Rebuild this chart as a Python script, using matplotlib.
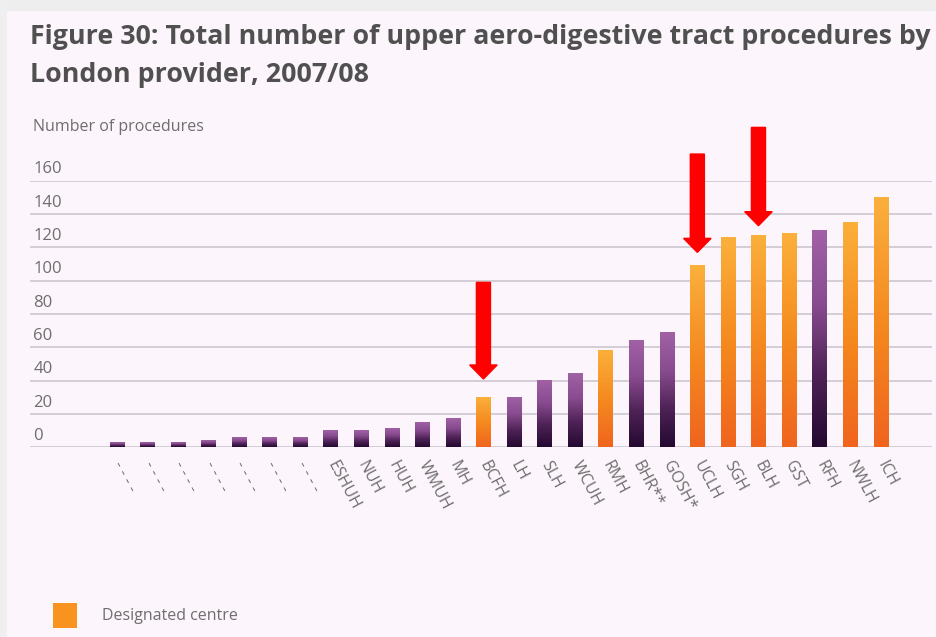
import numpy as np
import matplotlib
matplotlib.use("Agg")
import matplotlib.pyplot as plt
import matplotlib.transforms as mtransforms
from matplotlib.colors import LinearSegmentedColormap
from matplotlib.patches import Rectangle
from matplotlib import font_manager

# ---------------- data ----------------
providers = ["- - - -", "- - - -", "- - - -", "- - - -", "- - - -", "- - - -", "- - - -",
             "ESHUH", "NUH", "HUH", "WMUH", "MH", "BCFH", "LH", "SLH", "WCUH",
             "RMH", "BHR**", "GOSH*", "UCLH", "SGH", "BLH", "GST", "RFH", "NWLH", "ICH"]
procedures = [3, 3, 3, 4, 6, 6, 6, 10, 10, 11, 15, 17, 30, 30, 40, 44,
              58, 64, 69, 109, 126, 127, 128, 130, 135, 150]
designated = ["BCFH", "RMH", "UCLH", "SGH", "BLH", "GST", "NWLH", "ICH"]
y_ticks = [0, 20, 40, 60, 80, 100, 120, 140, 160]

# red arrow annotations (provider, tail value, tip value)
arrow_targets = ["BCFH", "UCLH", "BLH"]
arrow_tails = [99, 176, 192]
arrow_tips = [41, 117, 133]

title = ("Figure 30: Total number of upper aero-digestive tract procedures by\n"
         "London provider, 2007/08")
y_label = "Number of procedures"
legend_label = "Designated centre"

# ---------------- style ----------------
W, H = 937, 637
BG = "#fcf5fb"
TXT = "#6e6e6e"
avail = {f.name for f in font_manager.fontManager.ttflist}
FONT = "Open Sans" if "Open Sans" in avail else "DejaVu Sans"
plt.rcParams["font.family"] = [FONT, "DejaVu Sans"]

fig = plt.figure(figsize=(W / 100, H / 100), dpi=100, facecolor=BG)

# screenshot border strips
fig.patches.append(Rectangle((0, 1 - 11 / H), 1, 11 / H, transform=fig.transFigure,
                             facecolor="#eeeeee", edgecolor="none", zorder=0))
fig.patches.append(Rectangle((0, 0), 7 / W, 1, transform=fig.transFigure,
                             facecolor="#efefef", edgecolor="none", zorder=0))

ax_left, ax_right = 30, 932
ax_bottom_px, ax_top_px = 447.3, 180.7
ax = fig.add_axes([ax_left / W, (H - ax_bottom_px) / H,
                   (ax_right - ax_left) / W, (ax_bottom_px - ax_top_px) / H])
ax.set_facecolor("none")

x = np.arange(len(providers))
is_des = [p in designated for p in providers]
bars = ax.bar(x, procedures, width=0.47, color=["#f7941d" if d else "#5e2a63" for d in is_des],
              zorder=3)

orange_cmap = LinearSegmentedColormap.from_list("o", ["#f0641e", "#f58a1f", "#fbb03b"])
purple_cmap = LinearSegmentedColormap.from_list("p", ["#240930", "#4e2256", "#8a4c90", "#a062a5"])
grad = np.linspace(0, 1, 256).reshape(-1, 1)
for b, d in zip(bars, is_des):
    x0, w, h = b.get_x(), b.get_width(), b.get_height()
    ax.imshow(grad, extent=[x0, x0 + w, 0, h], origin="lower", aspect="auto",
              cmap=orange_cmap if d else purple_cmap, zorder=4, interpolation="bilinear")

ax.set_xlim((ax_left - 116.7) / 30.56, (ax_right - 116.7) / 30.56)
ax.set_ylim(0, 160)

# grid
ax.set_yticks(y_ticks)
ax.set_yticklabels([str(t) for t in y_ticks])
ax.grid(axis="y", color="#c9c4cb", linewidth=1.1, zorder=1)
ax.tick_params(axis="y", length=0, pad=-2.5, labelsize=12, labelcolor=TXT)
offset = mtransforms.ScaledTranslation(0, 2.5 / 72, fig.dpi_scale_trans)
for lab in ax.get_yticklabels():
    lab.set_horizontalalignment("left")
    lab.set_verticalalignment("bottom")
    lab.set_transform(lab.get_transform() + offset)
for s in ax.spines.values():
    s.set_visible(False)

ax.set_xticks(x)
ax.set_xticklabels(providers, rotation=-62, ha="left", va="center",
                   rotation_mode="anchor", fontsize=11.5, color=TXT)
ax.tick_params(axis="x", length=0, pad=11)

# arrows
for name, tail, tip in zip(arrow_targets, arrow_tails, arrow_tips):
    xi = providers.index(name)
    ax.arrow(xi, tail, 0, tip - tail, width=0.46, head_width=0.9, head_length=8.4,
             length_includes_head=True, color="#ff0000", zorder=10, clip_on=False)

# title
t = fig.text(30 / W, 1 - 24 / H, title, ha="left", va="top", fontsize=17,
             fontweight="bold", color="#505050", linespacing=1.6)
fig.canvas.draw()
bb = t.get_window_extent()
t.set_fontsize(17 * 898 / bb.width)

fig.text(33 / W, 1 - 127 / H, y_label, ha="left", va="center", fontsize=11.5, color=TXT)

# legend
fig.patches.append(Rectangle((53 / W, 1 - 628 / H), 24 / W, 25 / H, transform=fig.transFigure,
                             facecolor="#f7931e", edgecolor="none"))
fig.text(102 / W, 1 - 616 / H, legend_label, ha="left", va="center", fontsize=11.5, color=TXT)

fig.savefig("out.png", dpi=100, facecolor=BG)
